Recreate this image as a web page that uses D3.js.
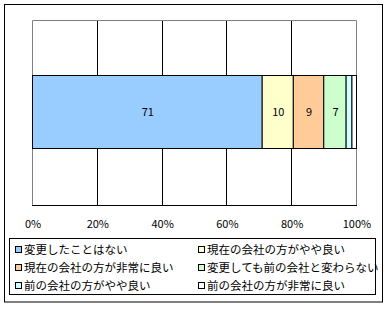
<!DOCTYPE html>
<html>
<head>
<meta charset="utf-8">
<script src="https://cdn.jsdelivr.net/npm/d3@7"></script>
<style>
  body { margin: 0; background: #fff; }
  svg text { font-family: "Noto Sans CJK JP", "DejaVu Sans", sans-serif; }
</style>
</head>
<body>
<div id="chart"></div>
<script>
// series names, values (percent) and colours
var categories = ['変更したことはない', '現在の会社の方がやや良い', '現在の会社の方が非常に良い',
    '変更しても前の会社と変わらない', '前の会社の方がやや良い', '前の会社の方が非常に良い'];
var values = [70.9, 9.6, 9.4, 6.9, 1.8, 1.4];
var colors = ['#99ccff', '#ffffcc', '#ffcc99', '#ccffcc', '#ccffff', '#ffffff'];
var ticks = [0, 20, 40, 60, 80, 100];

var width = 389;
var height = 309;
var plot = { left: 32, right: 356, top: 20, bottom: 205 };
var barTop = 75;
var barBottom = 148;

var svg = d3.select('#chart').append('svg')
    .attr('width', width)
    .attr('height', height);

// outer frame
svg.append('rect')
    .attr('x', 4.5).attr('y', 4.5)
    .attr('width', 378).attr('height', 297.5)
    .attr('fill', '#fff').attr('stroke', '#000');

var x = d3.scaleLinear().domain([0, 100]).range([plot.left, plot.right]);

// gridlines
svg.selectAll('line.grid')
    .data(ticks.slice(1, -1))
    .enter().append('line')
    .attr('class', 'grid')
    .attr('x1', function (d) { return Math.round(x(d)) + 0.5; })
    .attr('x2', function (d) { return Math.round(x(d)) + 0.5; })
    .attr('y1', plot.top).attr('y2', plot.bottom)
    .attr('stroke', '#000');

// plot border, gray on three sides
svg.append('path')
    .attr('d', 'M' + (plot.left + 0.5) + ',' + plot.bottom + 'V' + (plot.top + 0.5) +
        'H' + (plot.right + 0.5) + 'V' + plot.bottom)
    .attr('fill', 'none').attr('stroke', '#808080');

// stacked segments
var cum = 0;
var segs = values.map(function (v, i) {
    var s = { start: cum, end: cum + v, value: v, color: colors[i] };
    cum += v;
    return s;
});

svg.selectAll('rect.seg')
    .data(segs)
    .enter().append('rect')
    .attr('class', 'seg')
    .attr('x', function (d) { return x(d.start) + 0.5; })
    .attr('y', barTop + 0.5)
    .attr('width', function (d) { return x(d.end) - x(d.start); })
    .attr('height', barBottom - barTop)
    .attr('fill', function (d) { return d.color; })
    .attr('stroke', '#000');

// value labels for the larger pieces
svg.selectAll('text.val')
    .data(segs.filter(function (d) { return d.value >= 5; }))
    .enter().append('text')
    .attr('class', 'val')
    .attr('x', function (d) { return (x(d.start) + x(d.end)) / 2 + 1; })
    .attr('y', 116)
    .attr('text-anchor', 'middle')
    .attr('font-size', 11)
    .text(function (d) { return Math.round(d.value); });

// bottom axis
var axis = svg.append('g').attr('transform', 'translate(0,' + (plot.bottom + 0.5) + ')');
axis.append('line')
    .attr('x1', plot.left).attr('x2', plot.right + 1)
    .attr('stroke', '#000');
axis.selectAll('text')
    .data(ticks)
    .enter().append('text')
    .attr('x', function (d) { return x(d) + 1; })
    .attr('y', 22)
    .attr('text-anchor', 'middle')
    .attr('font-size', 11)
    .text(function (d) { return d + '%'; });

// legend
var legend = svg.append('g');
legend.append('rect')
    .attr('x', 9.5).attr('y', 238.5)
    .attr('width', 366).attr('height', 56)
    .attr('fill', '#fff').attr('stroke', '#000');

var item = legend.selectAll('g.item')
    .data(categories)
    .enter().append('g')
    .attr('class', 'item')
    .attr('transform', function (d, i) {
        return 'translate(' + (i % 2 === 0 ? 15 : 198) + ',' + (250 + Math.floor(i / 2) * 18) + ')';
    });

item.append('rect')
    .attr('x', 0.5).attr('y', -3.5)
    .attr('width', 6).attr('height', 6)
    .attr('fill', function (d, i) { return colors[i]; })
    .attr('stroke', '#000');

item.append('text')
    .attr('x', 9)
    .attr('y', 4)
    .attr('font-size', 11.5)
    .text(function (d) { return d; });
</script>
</body>
</html>
